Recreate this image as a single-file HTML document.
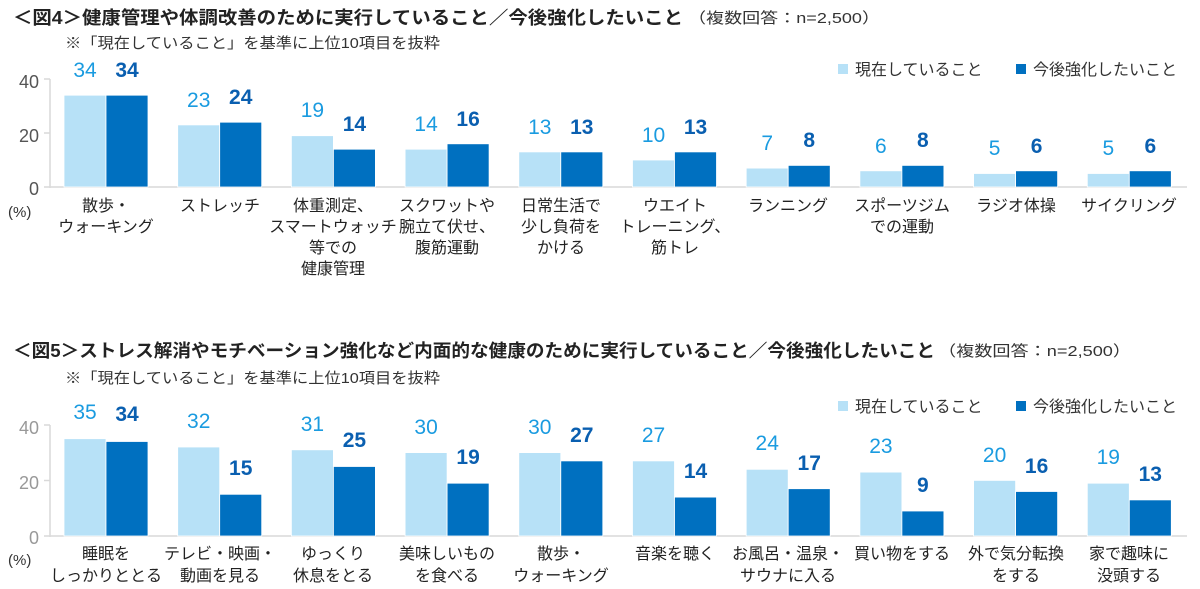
<!DOCTYPE html>
<html><head><meta charset="utf-8"><style>
body{margin:0;background:#fff;}
svg{display:block;font-family:"Liberation Sans","Noto Sans CJK JP",sans-serif;}
.t{font-weight:bold;font-size:18px;fill:#222}
.s{font-size:15px;fill:#333}
.lg{font-size:16px;fill:#333}
.cat{font-size:16px;fill:#222;text-anchor:middle}
.ax{font-size:18px;fill:#555;text-anchor:end}
.vl{font-size:21px;fill:#1a9be0;text-anchor:middle}
.vd{font-size:21px;font-weight:bold;fill:#0a5fb0;text-anchor:middle}
.L{fill:#b7e1f7;stroke:#fff;stroke-width:0.8}
.D{fill:#0070c0;stroke:#fff;stroke-width:0.8}
.g{stroke:#d9d9d9;stroke-width:1.5}
</style></head><body>
<svg width="1200" height="589" viewBox="0 0 1200 589">
<!-- Chart 1 -->
<text class="t" x="13" y="24" textLength="670" lengthAdjust="spacingAndGlyphs">＜図4＞健康管理や体調改善のために実行していること／今後強化したいこと</text>
<text class="s" x="688" y="23" textLength="192" lengthAdjust="spacingAndGlyphs">（複数回答：n=2,500）</text>
<text class="s" x="65" y="48" textLength="375" lengthAdjust="spacingAndGlyphs">※「現在していること」を基準に上位10項目を抜粋</text>
<rect x="838" y="64" width="10" height="10" fill="#b7e1f7"/><text class="lg" x="855" y="75">現在していること</text>
<rect x="1016" y="64" width="10" height="10" fill="#0070c0"/><text class="lg" x="1033" y="75">今後強化したいこと</text>
<line class="g" x1="50" y1="79" x2="50" y2="188"/>
<line class="g" x1="44" y1="187" x2="1187" y2="187"/>
<line class="g" x1="44" y1="79" x2="50" y2="79"/><line class="g" x1="44" y1="133" x2="50" y2="133"/>
<text class="ax" x="39" y="88">40</text><text class="ax" x="39" y="142">20</text><text class="ax" x="39" y="195">0</text>
<text class="s" x="8" y="217" font-size="16">(%)</text>
<g>
<rect class="L" x="64" y="95.2" width="42" height="91.8"/><rect class="D" x="106" y="95.2" width="42" height="91.8"/>
<text class="vl" x="85" y="77">34</text><text class="vd" x="127" y="77">34</text>
<rect class="L" x="177.7" y="124.9" width="42" height="62.1"/><rect class="D" x="219.7" y="122.2" width="42" height="64.8"/>
<text class="vl" x="198.7" y="107">23</text><text class="vd" x="240.7" y="104">24</text>
<rect class="L" x="291.4" y="135.7" width="42" height="51.3"/><rect class="D" x="333.4" y="149.2" width="42" height="37.8"/>
<text class="vl" x="312.4" y="117">19</text><text class="vd" x="354.4" y="131">14</text>
<rect class="L" x="405.1" y="149.2" width="42" height="37.8"/><rect class="D" x="447.1" y="143.8" width="42" height="43.2"/>
<text class="vl" x="426.1" y="131">14</text><text class="vd" x="468.1" y="126">16</text>
<rect class="L" x="518.8" y="151.9" width="42" height="35.1"/><rect class="D" x="560.8" y="151.9" width="42" height="35.1"/>
<text class="vl" x="539.8" y="134">13</text><text class="vd" x="581.8" y="134">13</text>
<rect class="L" x="632.5" y="160" width="42" height="27"/><rect class="D" x="674.5" y="151.9" width="42" height="35.1"/>
<text class="vl" x="653.5" y="142">10</text><text class="vd" x="695.5" y="134">13</text>
<rect class="L" x="746.2" y="168.1" width="42" height="18.9"/><rect class="D" x="788.2" y="165.4" width="42" height="21.6"/>
<text class="vl" x="767.2" y="150">7</text><text class="vd" x="809.2" y="147">8</text>
<rect class="L" x="859.9" y="170.8" width="42" height="16.2"/><rect class="D" x="901.9" y="165.4" width="42" height="21.6"/>
<text class="vl" x="880.9" y="153">6</text><text class="vd" x="922.9" y="147">8</text>
<rect class="L" x="973.6" y="173.5" width="42" height="13.5"/><rect class="D" x="1015.6" y="170.8" width="42" height="16.2"/>
<text class="vl" x="994.6" y="155">5</text><text class="vd" x="1036.6" y="153">6</text>
<rect class="L" x="1087.3" y="173.5" width="42" height="13.5"/><rect class="D" x="1129.3" y="170.8" width="42" height="16.2"/>
<text class="vl" x="1108.3" y="155">5</text><text class="vd" x="1150.3" y="153">6</text>
</g>
<text class="cat" x="106" y="211">散歩・</text><text class="cat" x="106" y="232">ウォーキング</text>
<text class="cat" x="220" y="211">ストレッチ</text>
<text class="cat" x="333" y="211">体重測定、</text><text class="cat" x="333" y="232">スマートウォッチ</text><text class="cat" x="333" y="253">等での</text><text class="cat" x="333" y="274">健康管理</text>
<text class="cat" x="447" y="211">スクワットや</text><text class="cat" x="447" y="232">腕立て伏せ、</text><text class="cat" x="447" y="253">腹筋運動</text>
<text class="cat" x="561" y="211">日常生活で</text><text class="cat" x="561" y="232">少し負荷を</text><text class="cat" x="561" y="253">かける</text>
<text class="cat" x="675" y="211">ウエイト</text><text class="cat" x="675" y="232">トレーニング、</text><text class="cat" x="675" y="253">筋トレ</text>
<text class="cat" x="788" y="211">ランニング</text>
<text class="cat" x="902" y="211">スポーツジム</text><text class="cat" x="902" y="232">での運動</text>
<text class="cat" x="1016" y="211">ラジオ体操</text>
<text class="cat" x="1129" y="211">サイクリング</text>
<!-- Chart 2 -->
<text class="t" x="13" y="357" textLength="922" lengthAdjust="spacingAndGlyphs">＜図5＞ストレス解消やモチベーション強化など内面的な健康のために実行していること／今後強化したいこと</text>
<text class="s" x="938" y="356" textLength="193" lengthAdjust="spacingAndGlyphs">（複数回答：n=2,500）</text>
<text class="s" x="65" y="383" textLength="375" lengthAdjust="spacingAndGlyphs">※「現在していること」を基準に上位10項目を抜粋</text>
<rect x="838" y="401" width="10" height="10" fill="#b7e1f7"/><text class="lg" x="855" y="412">現在していること</text>
<rect x="1016" y="401" width="10" height="10" fill="#0070c0"/><text class="lg" x="1033" y="412">今後強化したいこと</text>
<line class="g" x1="50" y1="425" x2="50" y2="537"/>
<line class="g" x1="44" y1="536" x2="1187" y2="536"/>
<line class="g" x1="44" y1="425" x2="50" y2="425"/><line class="g" x1="44" y1="480.5" x2="50" y2="480.5"/>
<text class="ax" x="39" y="434" style="fill:#999">40</text><text class="ax" x="39" y="489" style="fill:#999">20</text><text class="ax" x="39" y="544" style="fill:#999">0</text>
<text class="s" x="8" y="565" font-size="16">(%)</text>
<g>
<rect class="L" x="64" y="438.7" width="42" height="97.3"/><rect class="D" x="106" y="441.5" width="42" height="94.5"/>
<text class="vl" x="85" y="419">35</text><text class="vd" x="127" y="421">34</text>
<rect class="L" x="177.7" y="447" width="42" height="89"/><rect class="D" x="219.7" y="494.3" width="42" height="41.7"/>
<text class="vl" x="198.7" y="428">32</text><text class="vd" x="240.7" y="475">15</text>
<rect class="L" x="291.4" y="449.8" width="42" height="86.2"/><rect class="D" x="333.4" y="466.5" width="42" height="69.5"/>
<text class="vl" x="312.4" y="431">31</text><text class="vd" x="354.4" y="447">25</text>
<rect class="L" x="405.1" y="452.6" width="42" height="83.4"/><rect class="D" x="447.1" y="483.2" width="42" height="52.8"/>
<text class="vl" x="426.1" y="434">30</text><text class="vd" x="468.1" y="464">19</text>
<rect class="L" x="518.8" y="452.6" width="42" height="83.4"/><rect class="D" x="560.8" y="460.9" width="42" height="75.1"/>
<text class="vl" x="539.8" y="434">30</text><text class="vd" x="581.8" y="442">27</text>
<rect class="L" x="632.5" y="460.9" width="42" height="75.1"/><rect class="D" x="674.5" y="497.1" width="42" height="38.9"/>
<text class="vl" x="653.5" y="442">27</text><text class="vd" x="695.5" y="478">14</text>
<rect class="L" x="746.2" y="469.3" width="42" height="66.7"/><rect class="D" x="788.2" y="488.7" width="42" height="47.3"/>
<text class="vl" x="767.2" y="450">24</text><text class="vd" x="809.2" y="470">17</text>
<rect class="L" x="859.9" y="472.1" width="42" height="63.9"/><rect class="D" x="901.9" y="511" width="42" height="25"/>
<text class="vl" x="880.9" y="453">23</text><text class="vd" x="922.9" y="492">9</text>
<rect class="L" x="973.6" y="480.4" width="42" height="55.6"/><rect class="D" x="1015.6" y="491.5" width="42" height="44.5"/>
<text class="vl" x="994.6" y="462">20</text><text class="vd" x="1036.6" y="473">16</text>
<rect class="L" x="1087.3" y="483.2" width="42" height="52.8"/><rect class="D" x="1129.3" y="499.9" width="42" height="36.1"/>
<text class="vl" x="1108.3" y="464">19</text><text class="vd" x="1150.3" y="481">13</text>
</g>
<text class="cat" x="106" y="559">睡眠を</text><text class="cat" x="106" y="581">しっかりととる</text>
<text class="cat" x="220" y="559">テレビ・映画・</text><text class="cat" x="220" y="581">動画を見る</text>
<text class="cat" x="333" y="559">ゆっくり</text><text class="cat" x="333" y="581">休息をとる</text>
<text class="cat" x="447" y="559">美味しいもの</text><text class="cat" x="447" y="581">を食べる</text>
<text class="cat" x="561" y="559">散歩・</text><text class="cat" x="561" y="581">ウォーキング</text>
<text class="cat" x="675" y="559">音楽を聴く</text>
<text class="cat" x="788" y="559">お風呂・温泉・</text><text class="cat" x="788" y="581">サウナに入る</text>
<text class="cat" x="902" y="559">買い物をする</text>
<text class="cat" x="1016" y="559">外で気分転換</text><text class="cat" x="1016" y="581">をする</text>
<text class="cat" x="1129" y="559">家で趣味に</text><text class="cat" x="1129" y="581">没頭する</text>
</svg>
</body></html>
